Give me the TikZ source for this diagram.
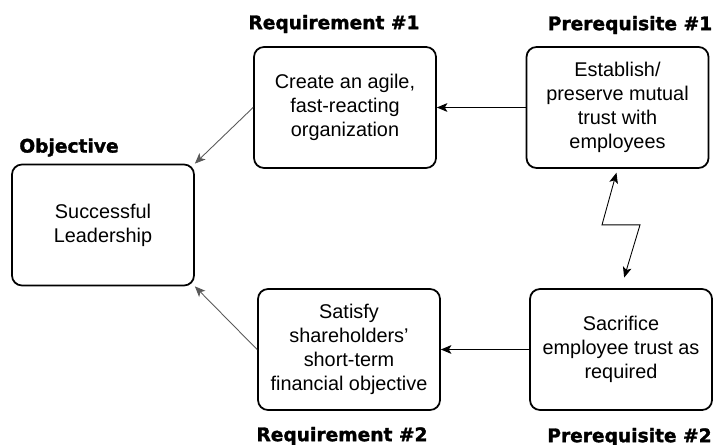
\documentclass[tikz,border=0pt]{standalone}
\usepackage{fontspec}
\setmainfont{Liberation Sans}
\newfontfamily\tagfont{DejaVu Sans Bold}[FakeBold=1.6]
\usetikzlibrary{arrows.meta}

\begin{document}
\begin{tikzpicture}[node distance=4.84cm,
    every node/.style={align=center},
    box/.style={draw, rounded corners=0.2cm, line width=1pt, minimum width=3.64cm, minimum height=2.42cm, font=\fontsize{11.3}{13.6}\selectfont},
    tag/.style={font=\tagfont\fontsize{10.6}{12}\selectfont, inner sep=0pt},
    >={Stealth[length=6pt, width=5pt, inset=1.5pt]}]
        \useasboundingbox (-6.9,-6.75) rectangle (7.46,2.15);

        % Nodes
        \node (Req1) [box] {Create an agile,\\ fast-reacting\\ organization};
        \node (Pre1) [box, right of=Req1, xshift=0.61cm] {Establish/\\ preserve mutual\\ trust with\\ employees};
        \node (Req2) [box, below of=Req1, xshift=0.08cm] {Satisfy\\ shareholders'\\ short-term\\ financial objective};
        \node (Pre2) [box, below of=Pre1, xshift=0.07cm] {Sacrifice\\ employee trust as\\ required};
        \node (Obj) [box, left of=Req1, yshift=-2.35cm] {Successful\\ Leadership};

        % Titles
        \node (tReq1) [tag, above of=Req1, yshift=-3.17cm, xshift=-0.22cm] {Requirement \#1};
        \node (tPre1) [tag, above of=Pre1, yshift=-3.19cm, xshift=0.25cm] {Prerequisite \#1};
        \node (tObj) [tag, above of=Obj, yshift=-3.29cm, xshift=-0.68cm] {Objective};
        \node (tReq2) [tag, below of=Req2, yshift=3.11cm, xshift=-0.14cm] {Requirement \#2};
        \node (tPre2) [tag, below of=Pre2, yshift=3.09cm, xshift=0.17cm] {Prerequisite \#2};

        % Conflict
        \coordinate (zigL) at ([xshift=-0.31cm, yshift=-1.12cm]Pre1.south);
        \coordinate (zigR) at ([xshift=0.45cm, yshift=-1.12cm]Pre1.south);

        % Arrows
        \draw[->, line width=0.5pt] (Pre1) -- (Req1);
        \draw[->, line width=0.5pt] (Pre2) -- (Req2);
        \draw[->, line width=0.5pt, gray!70!black] (Req1.west) -- (Obj.north east);
        \draw[->, line width=0.5pt, gray!70!black] (Req2.west) -- (Obj.south east);
        \draw[<->, line width=0.5pt, shorten <=0.08cm, shorten >=0.22cm] (Pre1.south) -- (zigL) -- (zigR) -- (Pre2.north);
    \end{tikzpicture}
\end{document}
